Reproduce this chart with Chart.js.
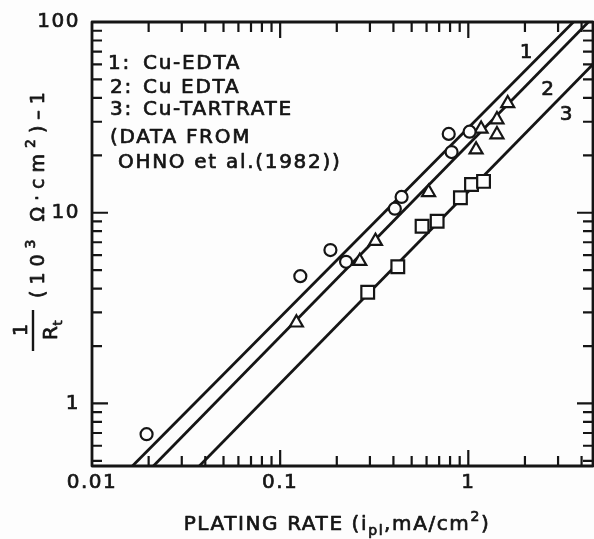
<!DOCTYPE html>
<html lang="en">
<head>
  <meta charset="UTF-8">
  <title>1/Rt vs plating rate</title>
  <style>
    html, body { margin: 0; padding: 0; background: #fdfdfd; }
    #wrap { width: 594px; height: 539px; }
  </style>
  <script src="https://cdn.jsdelivr.net/npm/chart.js"></script>
</head>
<body>
  <div id="wrap"><canvas id="chart" width="594" height="539"></canvas></div>

  <script>
    // measured points: plating rate (mA/cm2) vs 1/Rt (10^3 ohm cm2)^-1
    const edta1X = [0.0195, 0.128, 0.185, 0.224, 0.407, 0.442, 0.787, 0.815, 1.016];
    const edta1Y = [0.69, 4.65, 6.37, 5.53, 10.5, 12.1, 25.9, 20.8, 26.6];
    const edta2X = [0.122, 0.265, 0.321, 0.615, 1.10, 1.17, 1.42, 1.42, 1.62];
    const edta2Y = [2.65, 5.57, 7.1, 12.8, 21.4, 27.5, 25.7, 30.8, 37.4];
    const tartX = [0.292, 0.422, 0.568, 0.683, 0.908, 1.04, 1.205];
    const tartY = [3.83, 5.21, 8.5, 9.03, 11.98, 14.06, 14.6];

    // fitted lines, read where they leave the frame
    const fit1X = [0.0164, 3.62];
    const fit1Y = [0.47, 100];
    const fit2X = [0.0212, 4.35];
    const fit2Y = [0.47, 100];
    const fit3X = [0.0372, 4.6];
    const fit3Y = [0.47, 60];

    // line numbers written next to the lines
    const lineNames = ['1', '2', '3'];
    const lineNameX = [2.05, 2.67, 3.34];
    const lineNameY = [68.9, 44.3, 32.7];

    const xTickValues = [0.01, 0.1, 1];
    const xTickLabels = ['0.01', '0.1', '1'];
    const yTickValues = [1, 10, 100];
    const yTickLabels = ['1', '10', '100'];

    const legendNums = ['1:', '2:', '3:'];
    const legendTexts = ['Cu-EDTA', 'Cu EDTA', 'Cu-TARTRATE'];
    const noteLines = ['(DATA FROM', 'OHNO et al.(1982))'];

    const INK = '#151515';
    const PAPER = '#fdfdfd';
    const FONT = '"DejaVu Sans", "Liberation Sans", Arial, sans-serif';
    const HEAVY = 0.7; // extra stroke so the lettering looks like the inked original

    function pts(xs, ys) {
      return xs.map((x, i) => ({ x: x, y: ys[i] }));
    }

    // 1..9 per decade, for the small tick marks
    function logTicks(lo, hi) {
      const out = [];
      for (let d = lo; d < hi * 1.0001; d *= 10) {
        for (let k = 1; k <= 9; k++) out.push(+(d * k).toPrecision(3));
      }
      return out;
    }

    function isMajor(v) {
      const l = Math.log10(v);
      return Math.abs(l - Math.round(l)) < 1e-6;
    }

    function ink(ctx, t, x, y) {
      ctx.fillText(t, x, y);
      ctx.lineWidth = HEAVY;
      ctx.strokeText(t, x, y);
    }

    // text made of pieces, with sub / superscripts
    function richWidth(ctx, segs, spacing) {
      let w = 0;
      segs.forEach(s => {
        ctx.font = s.size + 'px ' + FONT;
        ctx.letterSpacing = spacing + 'px';
        s.w = ctx.measureText(s.t).width;
        w += s.w;
      });
      return w;
    }

    function drawRich(ctx, segs, x, y, spacing, center) {
      const w = richWidth(ctx, segs, spacing);
      let cx = center ? x - w / 2 : x;
      segs.forEach(s => {
        ctx.font = s.size + 'px ' + FONT;
        ctx.letterSpacing = spacing + 'px';
        ink(ctx, s.t, cx, y + (s.dy || 0));
        cx += s.w;
      });
    }

    const framePlugin = {
      id: 'frame',
      beforeDraw(chart) {
        // spaced lettering for the library's tick labels too
        chart.ctx.letterSpacing = '1.5px';
      },
      afterDraw(chart) {
        const ctx = chart.ctx;
        const a = chart.chartArea;
        const xs = chart.scales.x;
        const ys = chart.scales.y;
        ctx.save();
        ctx.strokeStyle = INK;
        ctx.fillStyle = INK;
        ctx.lineCap = 'butt';
        ctx.lineJoin = 'round';

        // tick marks pointing inward on all four sides
        ctx.lineWidth = 2.2;
        ctx.beginPath();
        logTicks(0.01, 1).forEach(v => {
          if (v <= xs.min || v >= xs.max) return;
          const px = xs.getPixelForValue(v);
          const len = isMajor(v) ? 16 : 10;
          ctx.moveTo(px, a.bottom); ctx.lineTo(px, a.bottom - len);
          ctx.moveTo(px, a.top); ctx.lineTo(px, a.top + len);
        });
        logTicks(0.1, 10).forEach(v => {
          if (v <= ys.min || v >= ys.max) return;
          const py = ys.getPixelForValue(v);
          const len = isMajor(v) ? 16 : 10;
          ctx.moveTo(a.left, py); ctx.lineTo(a.left + len, py);
          ctx.moveTo(a.right, py); ctx.lineTo(a.right - len, py);
        });
        ctx.stroke();

        // frame
        ctx.lineWidth = 2.8;
        ctx.strokeRect(a.left, a.top, a.right - a.left, a.bottom - a.top);

        // key block in the upper left
        ctx.textAlign = 'left';
        ctx.textBaseline = 'alphabetic';
        ctx.font = '20px ' + FONT;
        ctx.letterSpacing = '1.7px';
        const keyBase = [69, 93, 115];
        legendNums.forEach((n, i) => {
          ink(ctx, n, i === 0 ? 108 : 110, keyBase[i]);
          ink(ctx, legendTexts[i], 143, keyBase[i]);
        });
        ink(ctx, noteLines[0], 110, 143);
        ink(ctx, noteLines[1], 118, 168);

        // numbers on the lines
        ctx.textAlign = 'center';
        ctx.textBaseline = 'middle';
        lineNames.forEach((n, i) => {
          ink(ctx, n, xs.getPixelForValue(lineNameX[i]), ys.getPixelForValue(lineNameY[i]));
        });

        // x axis title
        ctx.textAlign = 'left';
        ctx.textBaseline = 'alphabetic';
        drawRich(ctx, [
          { t: 'PLATING RATE (i', size: 20 },
          { t: 'pl', size: 14, dy: 5 },
          { t: ',mA/cm', size: 20 },
          { t: '2', size: 14, dy: -9 },
          { t: ')', size: 20 }
        ], 337, 530, 1.6, true);

        // y axis title, reads bottom to top
        ctx.save();
        ctx.rotate(-Math.PI / 2);
        // fraction 1 / Rt
        drawRich(ctx, [{ t: '1', size: 19 }], -330, 27, 0, true);
        ctx.lineWidth = 2.4;
        ctx.beginPath();
        ctx.moveTo(-351, 33); ctx.lineTo(-310, 33);
        ctx.stroke();
        drawRich(ctx, [{ t: 'R', size: 20 }, { t: 't', size: 13, dy: 5 }], -330, 57, 0.5, true);
        drawRich(ctx, [
          { t: '(10', size: 19 },
          { t: '3', size: 14, dy: -9 },
          { t: ' \u03a9\u00b7cm', size: 19 },
          { t: '2', size: 14, dy: -9 },
          { t: ')\u20131', size: 19 }
        ], -298, 44, 6, false);
        ctx.restore();

        ctx.restore();
      }
    };

    const markerBase = {
      borderColor: INK,
      backgroundColor: PAPER,
      borderWidth: 2.2,
      showLine: false
    };
    const lineBase = {
      borderColor: INK,
      borderWidth: 2.8,
      showLine: true,
      pointRadius: 0,
      fill: false
    };

    const tickFont = {
      autoSkip: false,
      maxRotation: 0,
      color: INK,
      textStrokeColor: INK,
      textStrokeWidth: HEAVY,
      font: { family: FONT, size: 20 }
    };

    new Chart(document.getElementById('chart'), {
      type: 'scatter',
      data: {
        datasets: [
          Object.assign({ label: '1: Cu-EDTA', data: pts(edta1X, edta1Y), pointStyle: 'circle', pointRadius: 6 }, markerBase),
          Object.assign({ label: '2: Cu EDTA', data: pts(edta2X, edta2Y), pointStyle: 'triangle', pointRadius: 7.5 }, markerBase),
          Object.assign({ label: '3: Cu-TARTRATE', data: pts(tartX, tartY), pointStyle: 'rect', pointRadius: 9 }, markerBase),
          Object.assign({ label: 'line 1', data: pts(fit1X, fit1Y) }, lineBase),
          Object.assign({ label: 'line 2', data: pts(fit2X, fit2Y) }, lineBase),
          Object.assign({ label: 'line 3', data: pts(fit3X, fit3Y) }, lineBase)
        ]
      },
      options: {
        responsive: false,
        animation: false,
        events: [],
        layout: { autoPadding: false, padding: { top: 22, right: 1, bottom: 0, left: 0 } },
        plugins: {
          legend: { display: false },
          tooltip: { enabled: false }
        },
        scales: {
          x: {
            type: 'logarithmic',
            position: 'bottom',
            min: 0.01,
            max: 4.6,
            afterBuildTicks: s => { s.ticks = xTickValues.map(v => ({ value: v })); },
            afterFit: s => { s.height = 73; s.paddingLeft = 0; s.paddingRight = 0; },
            ticks: Object.assign({ padding: 5, callback: (v, i) => xTickLabels[i] }, tickFont),
            grid: { display: false, drawTicks: false },
            border: { display: false }
          },
          y: {
            type: 'logarithmic',
            position: 'left',
            min: 0.47,
            max: 100,
            afterBuildTicks: s => { s.ticks = yTickValues.map(v => ({ value: v })); },
            afterFit: s => { s.width = 92; s.paddingTop = 0; s.paddingBottom = 0; },
            ticks: Object.assign({ padding: 12, callback: (v, i) => yTickLabels[i] }, tickFont),
            grid: { display: false, drawTicks: false },
            border: { display: false }
          }
        }
      },
      plugins: [framePlugin]
    });
  </script>
</body>
</html>
